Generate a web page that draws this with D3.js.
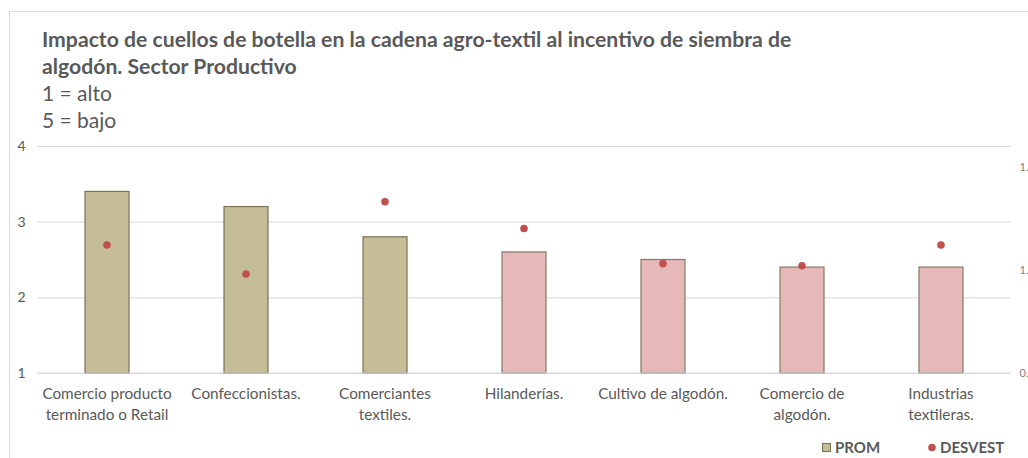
<!DOCTYPE html>
<html>
<head>
<meta charset="utf-8">
<script src="https://cdn.jsdelivr.net/npm/d3@7"></script>
<style>
  body { margin: 0; background: #fff; }
  text { font-family: Lato, "Open Sans", sans-serif; }
</style>
</head>
<body>
<div class="chart"></div>
<script>
// Data
var categories = [
  ["Comercio producto", "terminado o Retail"],
  ["Confeccionistas."],
  ["Comerciantes", "textiles."],
  ["Hilanderías."],
  ["Cultivo de algodón."],
  ["Comercio de", "algodón."],
  ["Industrias", "textileras."]
];
var prom = [3.4, 3.2, 2.8, 2.6, 2.5, 2.4, 2.4];
var desvest = [1.12, 0.98, 1.33, 1.2, 1.03, 1.02, 1.12];
var leftTicks = [1, 2, 3, 4];
var rightTicks = [0.5, 1.0, 1.5];
var titleLines = [
  "Impacto de cuellos de botella en la cadena agro-textil al incentivo de siembra de",
  "algodón. Sector Productivo"
];
var subLines = ["1 = alto", "5 = bajo"];

var svgWidth = 1028;
var svgHeight = 458;

var plot = { left: 37.5, right: 1010.5, top: 146, bottom: 373 };

var svg = d3.select(".chart")
  .append("svg")
  .attr("width", svgWidth)
  .attr("height", svgHeight);

// chart frame (cut by the window on the right and bottom)
svg.append("rect")
  .attr("x", 9.5)
  .attr("y", 11.5)
  .attr("width", 1100)
  .attr("height", 600)
  .attr("fill", "none")
  .attr("stroke", "#d9d9d9");

// Title
svg.selectAll(".title")
  .data(titleLines)
  .enter()
  .append("text")
  .attr("class", "title")
  .attr("x", 42)
  .attr("y", (d, i) => 47 + i * 27)
  .attr("fill", "#595959")
  .attr("font-size", 21.2)
  .attr("font-weight", "bold")
  .text(d => d);

svg.selectAll(".sub")
  .data(subLines)
  .enter()
  .append("text")
  .attr("class", "sub")
  .attr("x", 42)
  .attr("y", (d, i) => 101 + i * 27)
  .attr("fill", "#595959")
  .attr("font-size", 21)
  .text(d => d);

var xBand = d3.scaleBand()
  .domain(d3.range(categories.length))
  .range([plot.left, plot.right]);

var yLeft = d3.scaleLinear()
  .domain([1, 4])
  .range([plot.bottom, plot.top]);

var yRight = d3.scaleLinear()
  .domain([0.5, 1.6])
  .range([plot.bottom, plot.top]);

// gridlines
svg.append("g")
  .attr("transform", `translate(${plot.left},0)`)
  .call(d3.axisLeft(yLeft).tickValues(leftTicks).tickSize(-(plot.right - plot.left)).tickFormat(""))
  .call(g => g.select(".domain").remove())
  .call(g => g.selectAll("line").attr("stroke", "#d9d9d9"));

// left axis labels
svg.append("g")
  .attr("transform", `translate(${plot.left},0)`)
  .call(d3.axisLeft(yLeft).tickValues(leftTicks).tickSize(0).tickPadding(12).tickFormat(d3.format("d")))
  .call(g => g.select(".domain").remove())
  .call(g => g.selectAll("text")
    .attr("fill", "#595959")
    .attr("font-size", 14)
    .style("font-family", "Lato, sans-serif"));

// right axis labels (cut off by the window edge, as in the original)
svg.append("g")
  .attr("transform", `translate(${plot.right},0)`)
  .call(d3.axisRight(yRight).tickValues(rightTicks).tickSize(0).tickPadding(9).tickFormat(d3.format(".1f")))
  .call(g => g.select(".domain").remove())
  .call(g => g.selectAll("text")
    .attr("fill", "#7f7f7f")
    .attr("font-size", 11)
    .style("font-family", "Lato, sans-serif"));

// bars
var barW = 44;
svg.selectAll(".bar")
  .data(prom)
  .enter()
  .append("rect")
  .attr("class", "bar")
  .attr("x", (d, i) => xBand(i) + xBand.bandwidth() / 2 - barW / 2)
  .attr("y", d => yLeft(d))
  .attr("width", barW)
  .attr("height", d => yLeft(1) - yLeft(d))
  .attr("fill", (d, i) => i < 3 ? "#c4bd97" : "#e6b9b8")
  .attr("stroke", (d, i) => i < 3 ? "#7a7257" : "#857a66")
  .attr("stroke-width", 1.2);

// category axis line
svg.append("line")
  .attr("x1", plot.left)
  .attr("x2", plot.right)
  .attr("y1", plot.bottom)
  .attr("y2", plot.bottom)
  .attr("stroke", "#d9d9d9");

// dots
svg.selectAll(".dot")
  .data(desvest)
  .enter()
  .append("circle")
  .attr("class", "dot")
  .attr("cx", (d, i) => xBand(i) + xBand.bandwidth() / 2)
  .attr("cy", d => yRight(d))
  .attr("r", 3.8)
  .attr("fill", "#c0504d");

// category labels
var catG = svg.selectAll(".cat")
  .data(categories)
  .enter()
  .append("text")
  .attr("class", "cat")
  .attr("text-anchor", "middle")
  .attr("fill", "#595959")
  .attr("font-size", 15.3);

catG.selectAll("tspan")
  .data((d, i) => d.map(t => ({ t: t, i: i })))
  .enter()
  .append("tspan")
  .attr("x", d => xBand(d.i) + xBand.bandwidth() / 2)
  .attr("y", (d, j) => 399 + j * 21)
  .text(d => d.t);

// legend
var legend = svg.append("g");
legend.append("rect")
  .attr("x", 822.5)
  .attr("y", 443.5)
  .attr("width", 8)
  .attr("height", 8)
  .attr("fill", "#c4bd97")
  .attr("stroke", "#7a7257");
legend.append("text")
  .attr("x", 835)
  .attr("y", 452.5)
  .attr("fill", "#595959")
  .attr("font-size", 15)
  .attr("font-weight", "bold")
  .text("PROM");
legend.append("circle")
  .attr("cx", 932)
  .attr("cy", 447.5)
  .attr("r", 3.8)
  .attr("fill", "#c0504d");
legend.append("text")
  .attr("x", 940)
  .attr("y", 452.5)
  .attr("fill", "#595959")
  .attr("font-size", 15)
  .attr("font-weight", "bold")
  .text("DESVEST");
</script>
</body>
</html>
